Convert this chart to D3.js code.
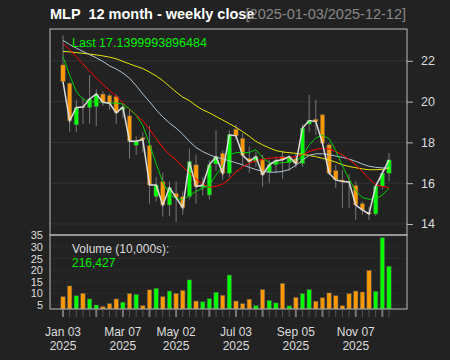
<!DOCTYPE html>
<html><head><meta charset="utf-8">
<script src="https://cdn.jsdelivr.net/npm/d3@7"></script>
<style>
html,body{margin:0;padding:0;background:#222222;}
svg{display:block;font-family:"Liberation Sans",Arial,sans-serif;}
text{white-space:pre;}
</style></head>
<body><svg id="c" width="450" height="360"></svg>
<script>
const dates = ["2025-01-03","2025-01-10","2025-01-17","2025-01-24","2025-01-31","2025-02-07","2025-02-14","2025-02-21","2025-02-28","2025-03-07","2025-03-14","2025-03-21","2025-03-28","2025-04-04","2025-04-11","2025-04-17","2025-04-25","2025-05-02","2025-05-09","2025-05-16","2025-05-23","2025-05-30","2025-06-06","2025-06-13","2025-06-20","2025-06-27","2025-07-03","2025-07-11","2025-07-18","2025-07-25","2025-08-01","2025-08-08","2025-08-15","2025-08-22","2025-08-29","2025-09-05","2025-09-12","2025-09-19","2025-09-26","2025-10-03","2025-10-10","2025-10-17","2025-10-24","2025-10-31","2025-11-07","2025-11-14","2025-11-21","2025-11-28","2025-12-05","2025-12-12"];
const open  = [21.80,20.90,18.86,19.76,19.71,19.76,20.37,20.30,20.25,19.60,19.30,17.86,18.24,17.85,15.34,16.08,14.93,15.50,15.34,15.34,16.90,15.80,15.42,16.94,17.47,16.49,18.65,18.20,17.22,17.06,17.14,16.54,16.90,17.30,17.00,17.20,16.96,18.90,19.14,19.35,17.88,16.62,16.16,16.10,15.88,15.00,14.55,14.49,15.86,16.49];
const high  = [23.25,20.95,20.10,20.20,21.30,20.60,20.50,20.40,20.35,19.90,19.60,18.30,18.50,18.80,16.30,16.50,16.10,16.10,15.60,17.70,17.40,16.30,17.10,18.60,17.63,18.60,18.86,18.47,17.80,17.55,17.40,17.14,17.30,17.60,17.40,17.50,18.90,20.33,20.09,19.40,17.97,16.90,16.65,16.45,16.10,15.10,14.85,15.90,16.70,17.48];
const low   = [20.90,18.53,18.50,18.90,18.90,18.80,19.80,19.60,18.90,19.20,17.20,17.40,17.50,15.00,15.10,14.36,14.40,14.10,14.45,15.20,15.00,15.40,15.20,16.60,16.16,16.30,18.12,16.90,16.49,16.80,15.83,16.00,16.50,16.20,16.60,16.75,16.80,18.53,18.37,17.90,16.40,15.77,14.80,14.80,14.20,14.45,14.20,14.40,15.70,16.08];
const close = [20.98,19.06,19.71,19.73,20.13,20.37,19.97,19.92,19.45,19.73,18.06,18.06,18.14,15.91,15.91,14.93,15.78,15.29,14.80,17.06,15.83,15.91,16.90,17.30,16.49,18.37,18.32,17.37,17.06,17.30,16.41,16.90,17.10,17.15,17.30,16.96,18.70,19.07,19.02,17.96,16.49,16.16,16.08,16.06,14.93,14.69,14.49,15.86,16.49,17.14];
const volume = [8.6,13.2,9.0,10.0,7.6,5.0,4.3,5.6,7.6,6.2,9.9,9.5,4.7,11.5,12.2,8.6,11.0,10.0,11.3,15.8,6.7,6.4,7.7,10.5,9.2,17.9,6.7,5.6,7.5,4.7,11.6,7.0,5.9,14.3,4.6,8.3,9.9,11.6,6.6,8.1,10.2,9.0,4.7,9.9,11.0,10.6,19.9,10.9,34.0,21.64];
const maGreen  = [22.20,21.30,20.49,20.12,19.98,20.00,19.97,19.93,19.93,19.88,19.65,19.32,18.83,17.92,16.95,16.05,15.45,15.25,15.20,15.40,15.60,15.75,15.90,16.40,16.85,17.40,17.50,17.50,17.50,17.65,17.25,17.00,17.00,17.00,17.05,17.08,17.35,17.88,18.22,18.35,18.18,17.60,16.85,16.20,15.62,15.30,15.21,15.23,15.42,15.75];
const maRed    = [22.85,22.55,22.20,21.85,21.50,21.15,20.85,20.55,20.25,19.95,19.60,19.35,19.05,18.65,18.20,17.75,17.40,17.15,16.80,16.50,16.20,15.95,15.80,15.85,15.95,16.20,16.55,16.80,16.98,17.10,17.17,17.22,17.25,17.25,17.25,17.30,17.40,17.55,17.66,17.70,17.68,17.55,17.39,17.16,16.90,16.57,16.22,15.93,15.84,15.79];
const maBlue   = [23.00,22.80,22.62,22.46,22.30,22.15,21.97,21.75,21.60,21.40,21.15,20.78,20.37,20.00,19.60,19.25,18.95,18.70,18.40,18.05,17.75,17.55,17.40,17.27,17.20,17.10,17.00,16.90,16.78,16.67,16.58,16.54,16.54,16.58,16.67,16.88,17.12,17.37,17.44,17.44,17.40,17.33,17.27,17.18,17.07,16.94,16.83,16.78,16.75,16.75];
const maYellow = [22.46,22.44,22.40,22.37,22.33,22.29,22.24,22.18,22.10,21.97,21.85,21.73,21.62,21.45,21.26,21.03,20.75,20.47,20.22,20.05,19.80,19.60,19.45,19.27,19.10,18.92,18.74,18.53,18.30,18.05,17.88,17.73,17.60,17.53,17.50,17.46,17.42,17.36,17.30,17.22,17.14,17.03,16.90,16.82,16.76,16.70,16.66,16.66,16.68,16.74];
const priceTicks = [14,16,18,20,22];
const volumeTicks = [5,10,15,20,25,30,35];
const xLabelDates = ["2025-01-03","2025-03-07","2025-05-02","2025-07-03","2025-09-05","2025-11-07"];
const xLabelText = [["Jan 03","2025"],["Mar 07","2025"],["May 02","2025"],["Jul 03","2025"],["Sep 05","2025"],["Nov 07","2025"]];
const monthStartDates = ["2025-02-07","2025-04-04","2025-06-06","2025-08-01","2025-10-03","2025-12-05"];
const titleText = "MLP  12 month - weekly close";
const rangeText = "[2025-01-03/2025-12-12]";
const lastText = "Last 17.1399993896484";
const volLabel = "Volume (10,000s):";
const volLast = "216,427";

const svg = d3.select("#c");
const L = 50, R = 407, T = 29, M = 235, B = 309;
const UP = "#00ff00", DN = "#ff9900";

const x = d3.scalePoint().domain(dates).range([63, 389]);
const y = d3.scaleLinear().domain([13.46, 23.56]).range([M, T]);
const yv = d3.scaleLinear().domain([3.28, 35.13]).range([B, M]);

svg.append("rect").attr("width",450).attr("height",360).attr("fill","#222222");

// grid
svg.append("g").selectAll("line").data(priceTicks).join("line")
  .attr("x1",L).attr("x2",R).attr("y1",d=>y(d)).attr("y2",d=>y(d))
  .attr("stroke","#333333").attr("stroke-width",1);
svg.append("g").selectAll("line").data(volumeTicks).join("line")
  .attr("x1",L).attr("x2",R).attr("y1",d=>yv(d)).attr("y2",d=>yv(d))
  .attr("stroke","#333333").attr("stroke-dasharray","2,2").attr("stroke-width",1);

const idx = d3.range(dates.length);
// candles
const cg = svg.append("g");
cg.selectAll("line").data(idx).join("line")
  .attr("x1",i=>x(dates[i])).attr("x2",i=>x(dates[i]))
  .attr("y1",i=>y(high[i])).attr("y2",i=>y(low[i]))
  .attr("stroke","#777777").attr("stroke-width",1);
cg.selectAll("rect").data(idx).join("rect")
  .attr("x",i=>x(dates[i])-2.2).attr("width",4.4)
  .attr("y",i=>y(Math.max(open[i],close[i])))
  .attr("height",i=>Math.max(1,Math.abs(y(open[i])-y(close[i]))))
  .attr("fill",i=>close[i]>=open[i]?UP:DN)
  .attr("stroke","#555555").attr("stroke-width",0.5);

// moving averages and close line
const line = arr => d3.line().x((d,i)=>x(dates[i])).y(d=>y(d))(arr);
[[maYellow,"#e6e600"],[maBlue,"#b0c4d4"],[maRed,"#ff0000"],[maGreen,"#00d000"]].forEach(([a,c])=>{
  svg.append("path").attr("d",line(a)).attr("fill","none").attr("stroke",c).attr("stroke-width",1);
});
svg.append("path").attr("d",line(close)).attr("fill","none").attr("stroke","#dddddd").attr("stroke-width",1.5);

// volume bars
svg.append("g").selectAll("rect").data(idx).join("rect")
  .attr("x",i=>x(dates[i])-2.2).attr("width",4.4)
  .attr("y",i=>yv(volume[i])).attr("height",i=>B-yv(volume[i]))
  .attr("fill",i=>close[i]>=open[i]?UP:DN)
  .attr("stroke","#555555").attr("stroke-width",0.5);

// frames
svg.append("rect").attr("x",L).attr("y",T).attr("width",R-L).attr("height",M-T)
  .attr("fill","none").attr("stroke","#bbbbbb").attr("stroke-width",1);
svg.append("rect").attr("x",L).attr("y",M).attr("width",R-L).attr("height",B-M)
  .attr("fill","none").attr("stroke","#bbbbbb").attr("stroke-width",1);

// price axis right
const pa = svg.append("g").attr("transform",`translate(${R},0)`)
  .call(d3.axisRight(y).tickValues(priceTicks).tickSize(6).tickPadding(8).tickFormat(d3.format("d")));
pa.select(".domain").remove();
pa.selectAll("line").attr("stroke","#bbbbbb");
pa.selectAll("text").attr("fill","#dddddd").attr("font-size",12.5).attr("font-family","Liberation Sans, Arial");

// volume axis left
const va = svg.append("g").attr("transform",`translate(${L},0)`)
  .call(d3.axisLeft(yv).tickValues(volumeTicks).tickSize(0).tickPadding(7).tickFormat(d3.format("d")));
va.select(".domain").remove();
va.selectAll("text").attr("fill","#dddddd").attr("font-size",11).attr("font-family","Liberation Sans, Arial");

// x ticks
const xg = svg.append("g");
xg.selectAll("line").data(dates).join("line")
  .attr("x1",d=>x(d)).attr("x2",d=>x(d)).attr("y1",B).attr("y2",B+8)
  .attr("stroke",d=>monthStartDates.includes(d)||xLabelDates.includes(d)?"#777777":"#555555")
  .attr("stroke-width",d=>monthStartDates.includes(d)||xLabelDates.includes(d)?2:1);
const xl = xg.selectAll("g.lab").data(xLabelDates).join("g").attr("class","lab");
xl.append("text").attr("x",d=>x(d)).attr("y",336).attr("text-anchor","middle")
  .attr("fill","#dddddd").attr("font-size",12).text((d,i)=>xLabelText[i][0]);
xl.append("text").attr("x",d=>x(d)).attr("y",350).attr("text-anchor","middle")
  .attr("fill","#dddddd").attr("font-size",12).text((d,i)=>xLabelText[i][1]);

// texts
svg.append("text").attr("x",50).attr("y",19).attr("fill","#ffffff").attr("font-weight","bold")
  .attr("font-size",14.5).text(titleText);
svg.append("text").attr("x",406).attr("y",19).attr("text-anchor","end").attr("fill","#888888")
  .attr("font-size",14.5).text(rangeText);
svg.append("text").attr("x",72).attr("y",47).attr("fill","#00ee00").attr("font-size",12.5).text(lastText);
svg.append("text").attr("x",72).attr("y",253).attr("fill","#dddddd").attr("font-size",12).text(volLabel);
svg.append("text").attr("x",72).attr("y",267).attr("fill","#00ee00").attr("font-size",12).text(volLast);
</script></body></html>
